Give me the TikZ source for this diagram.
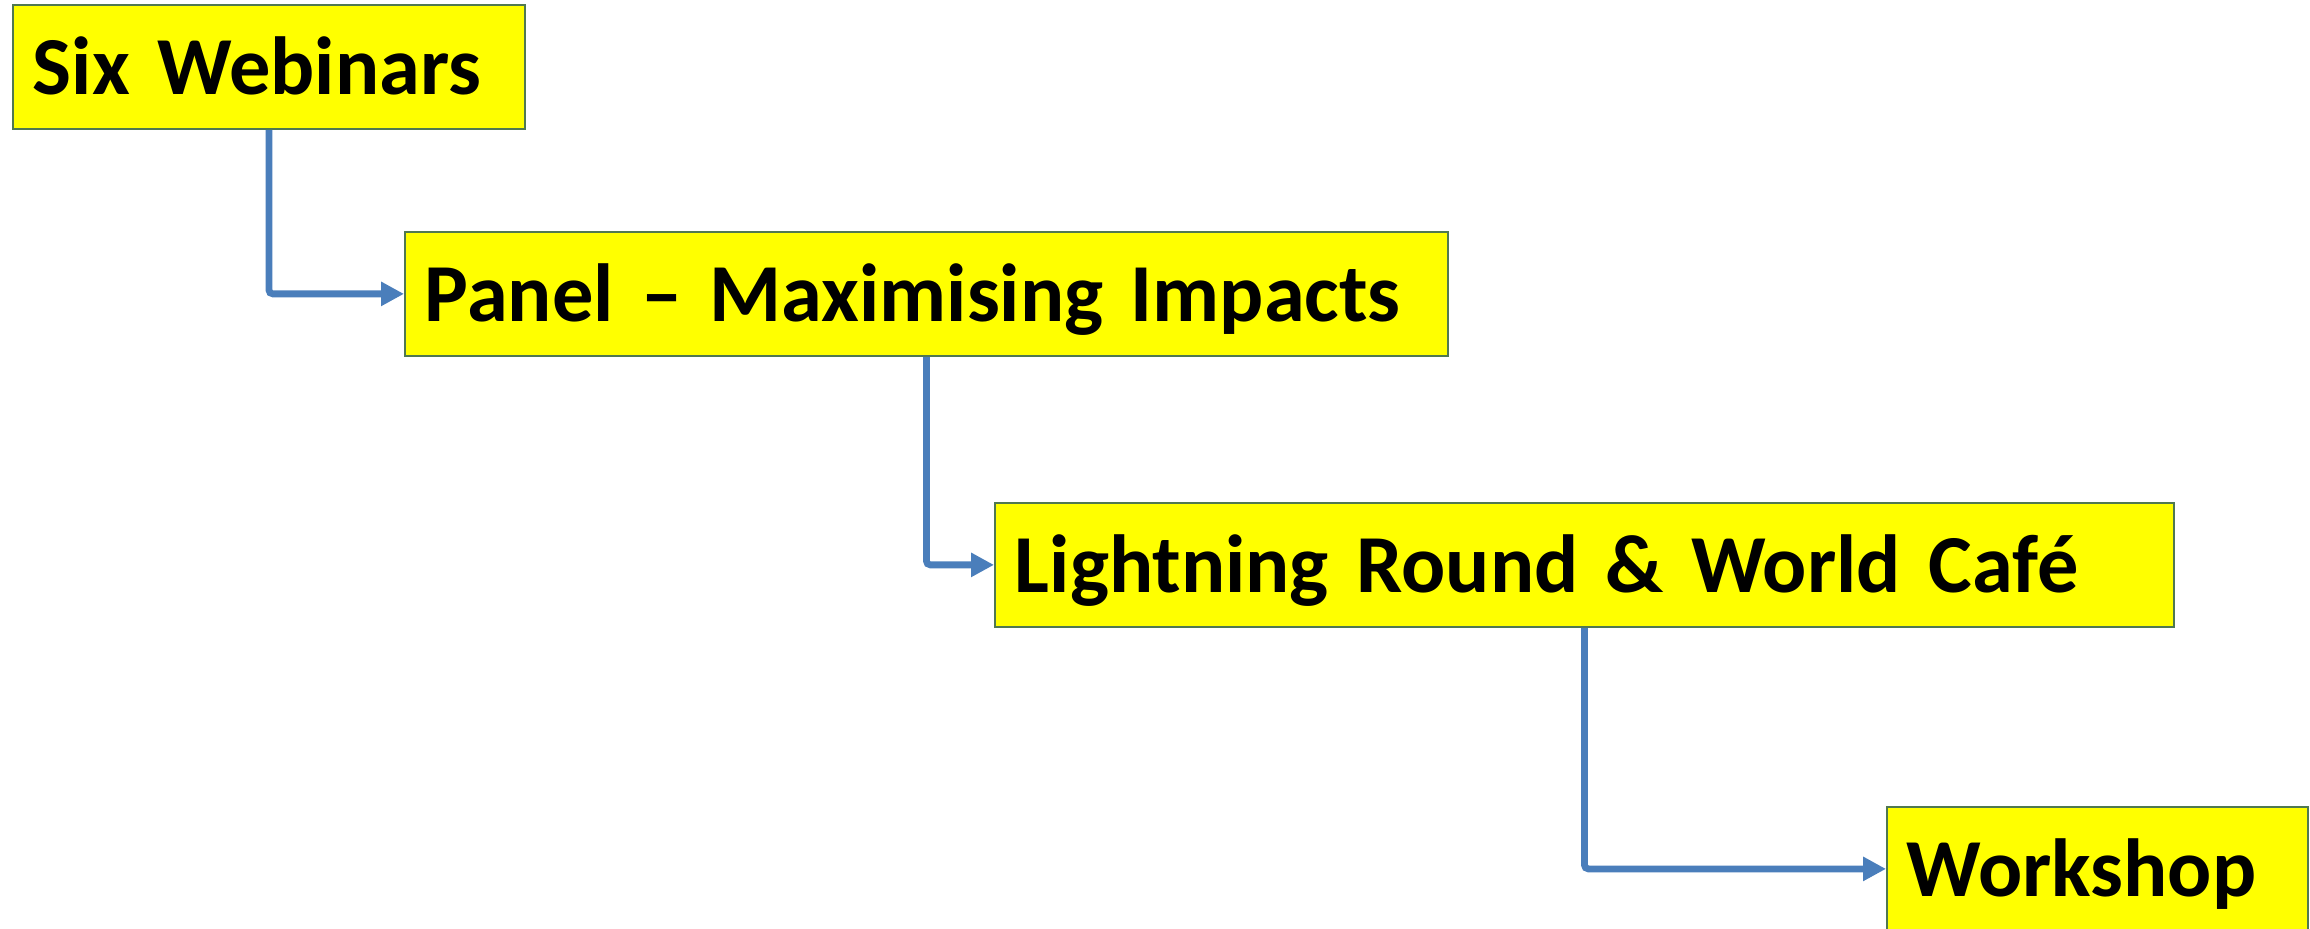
\documentclass[tikz,border=0pt]{standalone}
\usepackage{fontspec}
\setmainfont{Carlito}
\usetikzlibrary{positioning, arrows.meta}
\definecolor{stageborder}{RGB}{80,120,80}
\definecolor{stagefill}{RGB}{255,255,0}
\definecolor{flowblue}{RGB}{74,126,187}

\begin{document}
\begin{tikzpicture}[x=0.5pt, y=-0.5pt,
    stage/.style={draw=stageborder, line width=0.9pt, fill=stagefill, anchor=north west,
      minimum height=62pt, inner xsep=10pt, inner ysep=0pt, text height=28pt, text depth=0pt,
      font=\fontsize{41.2}{50}\selectfont\bfseries, align=left},
    flow/.style={draw=flowblue, line width=3.4pt, rounded corners=2pt,
      -{Triangle[length=11.5pt,width=11.5pt]}}]
    \useasboundingbox (0,0) rectangle (2310,929);

    \node[stage, text width=236pt] (six) at (12,4) {Six Webinars};
    \node[stage, text width=501.5pt] (panel) at (404,231) {Panel -- Maximising Impacts};
    \node[stage, text width=569.5pt] (lightning) at (994,502) {Lightning Round \& World Café};
    \node[stage, text width=190.5pt] (workshop) at (1886,806) {Workshop};

    \draw[flow] (six.south) |- (panel.west);
    \draw[flow] (panel.south) |- (lightning.west);
    \draw[flow] (lightning.south) |- (workshop.west);
\end{tikzpicture}
\end{document}
